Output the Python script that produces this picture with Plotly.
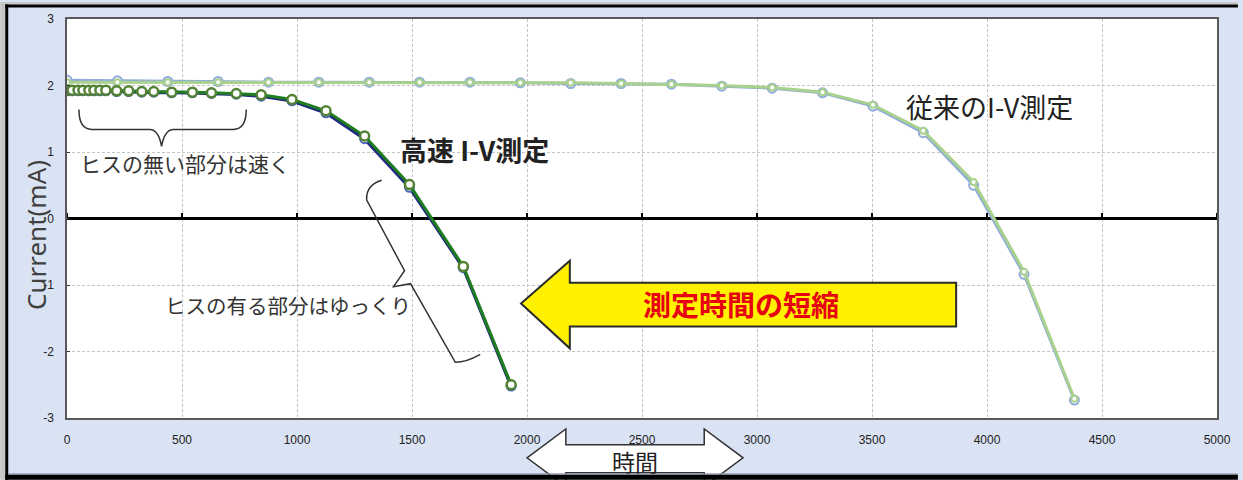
import plotly.graph_objects as go

# ---------------- data ----------------
conv_time = [0, 219, 438, 657, 876, 1095, 1314, 1533, 1752, 1971, 2190,
             2409, 2628, 2847, 3066, 3285, 3504, 3723, 3942, 4161, 4380]
conv_current_green = [2.05, 2.05, 2.05, 2.05, 2.05, 2.05, 2.05, 2.05, 2.05, 2.04, 2.04,
                      2.03, 2.02, 2.00, 1.97, 1.90, 1.71, 1.32, 0.55, -0.80, -2.71]
conv_current_blue = [2.08, 2.07, 2.06, 2.06, 2.05, 2.05, 2.05, 2.05, 2.05, 2.04, 2.03,
                     2.03, 2.02, 1.99, 1.96, 1.89, 1.69, 1.29, 0.50, -0.84, -2.73]

fast_time = [0, 22, 48, 69, 95, 117, 143, 169, 216, 268, 325, 377, 455, 545,
             628, 736, 844, 978, 1126, 1294, 1489, 1723, 1931]
fast_current_green = [1.93, 1.93, 1.93, 1.93, 1.93, 1.93, 1.93, 1.93, 1.92, 1.92, 1.91, 1.91,
                      1.90, 1.90, 1.89, 1.88, 1.86, 1.79, 1.62, 1.24, 0.51, -0.72, -2.50]
fast_current_navy = [1.92, 1.92, 1.92, 1.92, 1.92, 1.92, 1.92, 1.92, 1.91, 1.91, 1.90, 1.90,
                     1.89, 1.89, 1.88, 1.87, 1.84, 1.77, 1.59, 1.20, 0.47, -0.74, -2.52]

x_tick_vals = [0, 500, 1000, 1500, 2000, 2500, 3000, 3500, 4000, 4500, 5000]
x_tick_labels = [str(v) for v in x_tick_vals]
y_tick_vals = [-3, -2, -1, 0, 1, 2, 3]
y_tick_labels = ["-3", "-2", "-1", "0", "1", "2", "3"]

# ---------------- geometry helpers ----------------
W, H = 1243, 480
L, R, T, B = 67, 1222, 17, 418


def px(x):
    return (x - L) / (R - L)


def py(y):
    return (B - y) / (B - T)


def path(cmds):
    out = []
    for c in cmds:
        op = c[0]
        if op == "Z":
            out.append("Z")
            continue
        pts = c[1:]
        coords = []
        for i in range(0, len(pts), 2):
            coords.append(f"{px(pts[i]):.5f},{py(pts[i + 1]):.5f}")
        out.append(op + " " + " ".join(coords))
    return " ".join(out)


CJK = "Noto Sans CJK JP"

fig = go.Figure()

fig.add_trace(go.Scatter(
    x=conv_time, y=conv_current_blue, mode="lines+markers",
    line=dict(color="#8faadc", width=3),
    marker=dict(symbol="circle", size=9, color="white", line=dict(color="#8faadc", width=2)),
    showlegend=False, hoverinfo="skip"))
fig.add_trace(go.Scatter(
    x=conv_time, y=conv_current_green, mode="lines+markers",
    line=dict(color="#a9d18e", width=3),
    marker=dict(symbol="circle", size=6, color="white", line=dict(color="#a9d18e", width=2)),
    showlegend=False, hoverinfo="skip"))
fig.add_trace(go.Scatter(
    x=fast_time, y=fast_current_navy, mode="lines+markers",
    line=dict(color="#1f2a80", width=3.5),
    marker=dict(symbol="circle", size=9, color="white", line=dict(color="#4a66b0", width=2)),
    showlegend=False, hoverinfo="skip"))
fig.add_trace(go.Scatter(
    x=fast_time, y=fast_current_green, mode="lines+markers",
    line=dict(color="#1e7d1e", width=3),
    marker=dict(symbol="circle", size=9, color="white", line=dict(color="#548235", width=2.5)),
    showlegend=False, hoverinfo="skip"))

shapes = []

# small tick marks on the zero line
for v in x_tick_vals:
    shapes.append(dict(type="line", xref="x", yref="paper",
                       x0=v, x1=v, y0=py(217), y1=py(212),
                       line=dict(color="black", width=2)))

# brace under the fast (no hysteresis) section
shapes.append(dict(type="path", xref="paper", yref="paper",
                   path=path([("M", 79, 108), ("Q", 79, 128, 92, 128), ("L", 150, 128),
                              ("Q", 159, 128, 162, 145), ("Q", 165, 128, 174, 128),
                              ("L", 234, 128), ("Q", 247, 128, 247, 108)]),
                   line=dict(color="#333333", width=1.5)))

# brace along the slow (hysteresis) section
shapes.append(dict(type="path", xref="paper", yref="paper",
                   path=path([("M", 383, 179), ("Q", 367, 184, 368, 199), ("L", 406, 270),
                              ("L", 395, 286), ("L", 412, 283), ("L", 457, 362),
                              ("Q", 468, 362, 482, 354)]),
                   line=dict(color="#333333", width=1.5)))

# yellow arrow
shapes.append(dict(type="path", xref="paper", yref="paper",
                   path=path([("M", 523, 303), ("L", 572, 260), ("L", 572, 282), ("L", 960, 282),
                              ("L", 960, 326), ("L", 572, 326), ("L", 572, 348), ("Z",)]),
                   fillcolor="#fff100", line=dict(color="#2b2b2b", width=2)))

# white double arrow (time) - below the tick labels
shapes.append(dict(type="path", xref="paper", yref="paper", layer="below",
                   path=path([("M", 529, 458), ("L", 568, 429), ("L", 568, 445), ("L", 707, 445),
                              ("L", 707, 429), ("L", 746, 458), ("L", 707, 487), ("L", 707, 473),
                              ("L", 568, 473), ("L", 568, 487), ("Z",)]),
                   fillcolor="white", line=dict(color="#333333", width=1.5)))

# outer frame: grey strips and black borders
shapes.append(dict(type="rect", xref="paper", yref="paper", x0=px(0), x1=px(5), y0=py(480), y1=py(0),
                   fillcolor="#c6c6c6", line=dict(width=0)))
shapes.append(dict(type="rect", xref="paper", yref="paper", x0=px(0), x1=px(1243), y0=py(2.5), y1=py(0),
                   fillcolor="#c6c6c6", line=dict(width=0)))
shapes.append(dict(type="rect", xref="paper", yref="paper", x0=px(5), x1=px(8), y0=py(480), y1=py(2.5),
                   fillcolor="black", line=dict(width=0)))
shapes.append(dict(type="rect", xref="paper", yref="paper", x0=px(5), x1=px(1243), y0=py(5.5), y1=py(2.5),
                   fillcolor="black", line=dict(width=0)))
shapes.append(dict(type="rect", xref="paper", yref="paper", x0=px(8), x1=px(1243), y0=py(475), y1=py(473.5),
                   fillcolor="#9aa3b3", line=dict(width=0)))
shapes.append(dict(type="rect", xref="paper", yref="paper", x0=px(5), x1=px(1243), y0=py(480), y1=py(475),
                   fillcolor="black", line=dict(width=0)))

annotations = [
    dict(text="Current(mA)", x=px(36), y=py(234), textangle=-90,
         font=dict(family="Noto Sans", size=26, color="#404040")),
    dict(text="ヒスの無い部分は速く", x=px(186), y=py(162),
         font=dict(family=CJK, size=21, color="#333333")),
    dict(text="ヒスの有る部分はゆっくり", x=px(289), y=py(304),
         font=dict(family=CJK, size=20.5, color="#333333")),
    dict(text="<b>高速 I-V測定</b>", x=px(476), y=py(148),
         font=dict(family=CJK, size=27, color="#222222")),
    dict(text="従来のI-V測定", x=px(994), y=py(105),
         font=dict(family=CJK, size=27, color="#222222")),
    dict(text="<b>測定時間の短縮</b>", x=px(744), y=py(303),
         font=dict(family=CJK, size=28, color="#e60012")),
    dict(text="時間", x=px(637), y=py(461), borderpad=0,
         font=dict(family=CJK, size=23, color="#222222")),
]
for a in annotations:
    a.update(xref="paper", yref="paper", showarrow=False, xanchor="center", yanchor="middle")

fig.update_layout(
    width=W, height=H,
    margin=dict(l=L, r=W - R, t=T, b=H - B),
    paper_bgcolor="#dae3f3",
    plot_bgcolor="white",
    shapes=shapes,
    annotations=annotations,
    showlegend=False,
)
fig.update_xaxes(
    range=[0, 5000], tickvals=x_tick_vals, ticktext=x_tick_labels,
    showgrid=True, gridcolor="#c4c4c4", griddash="3px,2px", gridwidth=1,
    showline=True, mirror=True, linecolor="#595959", linewidth=1.5,
    zeroline=False, ticks="", ticklabelstandoff=10,
    tickfont=dict(family="Liberation Sans", size=12, color="#222222"),
)
fig.update_yaxes(
    range=[-3, 3], tickvals=y_tick_vals, ticktext=y_tick_labels,
    showgrid=True, gridcolor="#c4c4c4", griddash="3px,2px", gridwidth=1,
    showline=True, mirror=True, linecolor="#595959", linewidth=1.5,
    zeroline=True, zerolinecolor="black", zerolinewidth=3,
    ticks="inside", ticklen=3, tickcolor="#333333",
    ticklabelstandoff=9,
    tickfont=dict(family="Liberation Sans", size=12, color="#222222"),
)

fig.write_html(
    "out.html",
    config={"displayModeBar": False},
    post_script="document.body.style.margin='0';document.body.style.overflow='hidden';",
)
